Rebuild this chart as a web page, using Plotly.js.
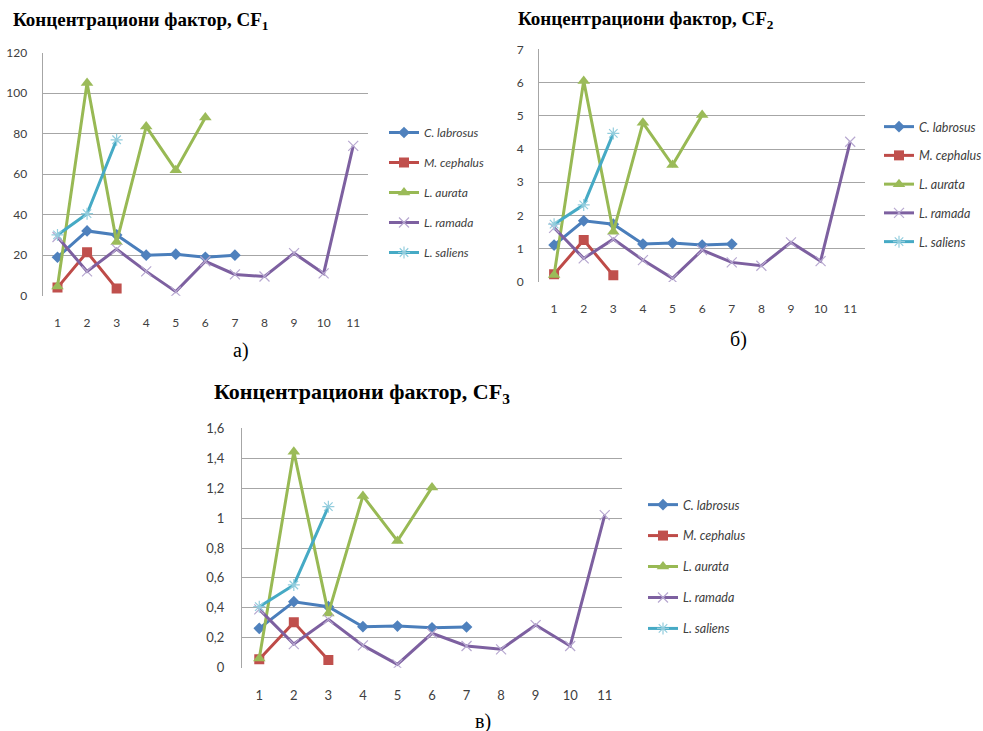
<!DOCTYPE html>
<html>
<head>
<meta charset="utf-8">
<script src="https://cdn.plot.ly/plotly-3.0.1.min.js"></script>
<style>html,body{margin:0;padding:0;background:#fff;}#chart{width:983px;height:731px;}</style>
</head>
<body>
<div id="chart"></div>
<script>
// ---- data ----
const categories = [1, 2, 3, 4, 5, 6, 7, 8, 9, 10, 11];
const seriesNames = ["C. labrosus", "M. cephalus", "L. aurata", "L. ramada", "L. saliens"];

const cf1_labrosus = [19, 32, 30, 20, 20.5, 19, 20];
const cf1_cephalus = [4, 21.5, 3.5];
const cf1_aurata   = [4.5, 105, 26.5, 83.5, 62, 88];
const cf1_ramada   = [29, 12, 23, 12, 2, 17, 10.5, 9.5, 21, 11, 74];
const cf1_saliens  = [30, 40.5, 77];

const cf2_labrosus = [1.11, 1.84, 1.74, 1.14, 1.17, 1.11, 1.14];
const cf2_cephalus = [0.23, 1.26, 0.2];
const cf2_aurata   = [0.21, 6.05, 1.51, 4.79, 3.52, 5.02];
const cf2_ramada   = [1.63, 0.71, 1.29, 0.66, 0.11, 0.96, 0.59, 0.49, 1.19, 0.63, 4.22];
const cf2_saliens  = [1.74, 2.32, 4.47];

const cf3_labrosus = [0.263, 0.441, 0.408, 0.274, 0.278, 0.267, 0.272];
const cf3_cephalus = [0.056, 0.303, 0.051];
const cf3_aurata   = [0.062, 1.444, 0.363, 1.148, 0.847, 1.205];
const cf3_ramada   = [0.39, 0.158, 0.323, 0.149, 0.022, 0.23, 0.145, 0.123, 0.285, 0.145, 1.02];
const cf3_saliens  = [0.408, 0.553, 1.076];

const titles = ["Концентрациони фактор, CF<sub>1</sub>", "Концентрациони фактор, CF<sub>2</sub>", "Концентрациони фактор, CF<sub>3</sub>"];
const panelLabels = ["а)", "б)", "в)"];

// ---- styles ----
const styles = [
  {line: "#4A7EBB", marker: {symbol: "diamond", size: 9, color: "#4F81BD"}},
  {line: "#BE4B48", marker: {symbol: "square", size: 10, color: "#C0504D"}},
  {line: "#98B954", marker: {symbol: "triangle-up", size: 11, color: "#9BBB59"}},
  {line: "#7D60A0", marker: {symbol: "x-thin-open", size: 10, color: "#B7A8D0", line: {width: 1.2, color: "#B7A8D0"}}},
  {line: "#46AAC5", marker: {symbol: "asterisk-open", size: 10, color: "#93CDDD", line: {width: 1.2, color: "#93CDDD"}}}
];

const panels = [
  {data: [cf1_labrosus, cf1_cephalus, cf1_aurata, cf1_ramada, cf1_saliens], xa: "x", ya: "y", leg: "legend"},
  {data: [cf2_labrosus, cf2_cephalus, cf2_aurata, cf2_ramada, cf2_saliens], xa: "x2", ya: "y2", leg: "legend2"},
  {data: [cf3_labrosus, cf3_cephalus, cf3_aurata, cf3_ramada, cf3_saliens], xa: "x3", ya: "y3", leg: "legend3"}
];

const traces = [];
panels.forEach((p, pi) => {
  p.data.forEach((vals, si) => {
    const st = styles[si];
    traces.push({
      type: "scatter", mode: "lines+markers",
      x: categories.slice(0, vals.length), y: vals,
      name: seriesNames[si],
      xaxis: p.xa, yaxis: p.ya, legend: p.leg,
      legendgroup: "p" + pi + "s" + si,
      line: {color: st.line, width: 3},
      marker: st.marker,
      hoverinfo: "x+y+name"
    });
  });
});

const W = 983, H = 731;
const fx = v => v / W;
const fy = v => 1 - v / H;
const tickFam = "Lato, 'Liberation Sans', sans-serif";

function xaxis(l, r, anchor, fs) {
  return {
    domain: [fx(l), fx(r)], anchor: anchor, range: [0.5, 11.5], dtick: 1, tick0: 1,
    showgrid: false, zeroline: false, showline: false, ticks: "",
    ticklabelstandoff: 18, fixedrange: true,
    tickfont: {family: tickFam, size: fs, color: "#404040"}
  };
}
function yaxis(b, t, anchor, range, dtick, fs, standoff) {
  return {
    domain: [fy(b), fy(t)], anchor: anchor, range: range, dtick: dtick,
    showgrid: true, gridcolor: "#A6A6A6", gridwidth: 1.3, zeroline: false,
    showline: true, linecolor: "#A6A6A6", linewidth: 1.3, ticks: "",
    ticklabelstandoff: standoff, fixedrange: true,
    tickfont: {family: tickFam, size: fs, color: "#404040"}
  };
}
function legend(x, y, gap, fs) {
  return {
    x: fx(x), y: fy(y), xanchor: "left", yanchor: "top",
    bgcolor: "rgba(0,0,0,0)", traceorder: "grouped", tracegroupgap: gap,
    itemwidth: 30, itemclick: false, itemdoubleclick: false,
    font: {family: tickFam, size: fs, color: "#404040", style: "italic"}
  };
}

const serif = "'Liberation Serif', 'Times New Roman', serif";
const titleFont = {family: serif, size: 19, color: "#000", weight: "bold"};
const titleFont3 = {family: serif, size: 22, color: "#000", weight: "bold"};
const labelFont = {family: serif, size: 20, color: "#000"};

const layout = {
  width: W, height: H,
  margin: {l: 0, r: 0, t: 0, b: 0, autoexpand: false},
  paper_bgcolor: "#fff", plot_bgcolor: "#fff",
  separators: ", ",
  showlegend: true,
  xaxis: xaxis(42.7, 368, "y", 12),
  yaxis: yaxis(295.7, 52.7, "x", [0, 120], 20, 12, 12),
  xaxis2: xaxis(539.3, 865, "y2", 12),
  yaxis2: yaxis(282, 49.3, "x2", [0, 7], 1, 12, 12),
  xaxis3: xaxis(242, 622, "y3", 13),
  yaxis3: yaxis(667.7, 428.3, "x3", [0, 1.6], 0.2, 13, 14),
  legend: legend(384, 118, 11, 12),
  legend2: legend(879, 112, 9.5, 12.5),
  legend3: legend(643, 490, 11.7, 12.5),
  annotations: [
    {text: titles[0], x: fx(11), y: fy(21), xref: "paper", yref: "paper", xanchor: "left", yanchor: "middle", showarrow: false, font: titleFont},
    {text: titles[1], x: fx(516), y: fy(20), xref: "paper", yref: "paper", xanchor: "left", yanchor: "middle", showarrow: false, font: titleFont},
    {text: titles[2], x: fx(212), y: fy(393), xref: "paper", yref: "paper", xanchor: "left", yanchor: "middle", showarrow: false, font: titleFont3},
    {text: panelLabels[0], x: fx(241), y: fy(351), xref: "paper", yref: "paper", xanchor: "center", yanchor: "middle", showarrow: false, font: labelFont},
    {text: panelLabels[1], x: fx(738), y: fy(340), xref: "paper", yref: "paper", xanchor: "center", yanchor: "middle", showarrow: false, font: labelFont},
    {text: panelLabels[2], x: fx(483), y: fy(721), xref: "paper", yref: "paper", xanchor: "center", yanchor: "middle", showarrow: false, font: labelFont}
  ]
};

Plotly.newPlot("chart", traces, layout, {displayModeBar: false});
</script>
</body>
</html>
